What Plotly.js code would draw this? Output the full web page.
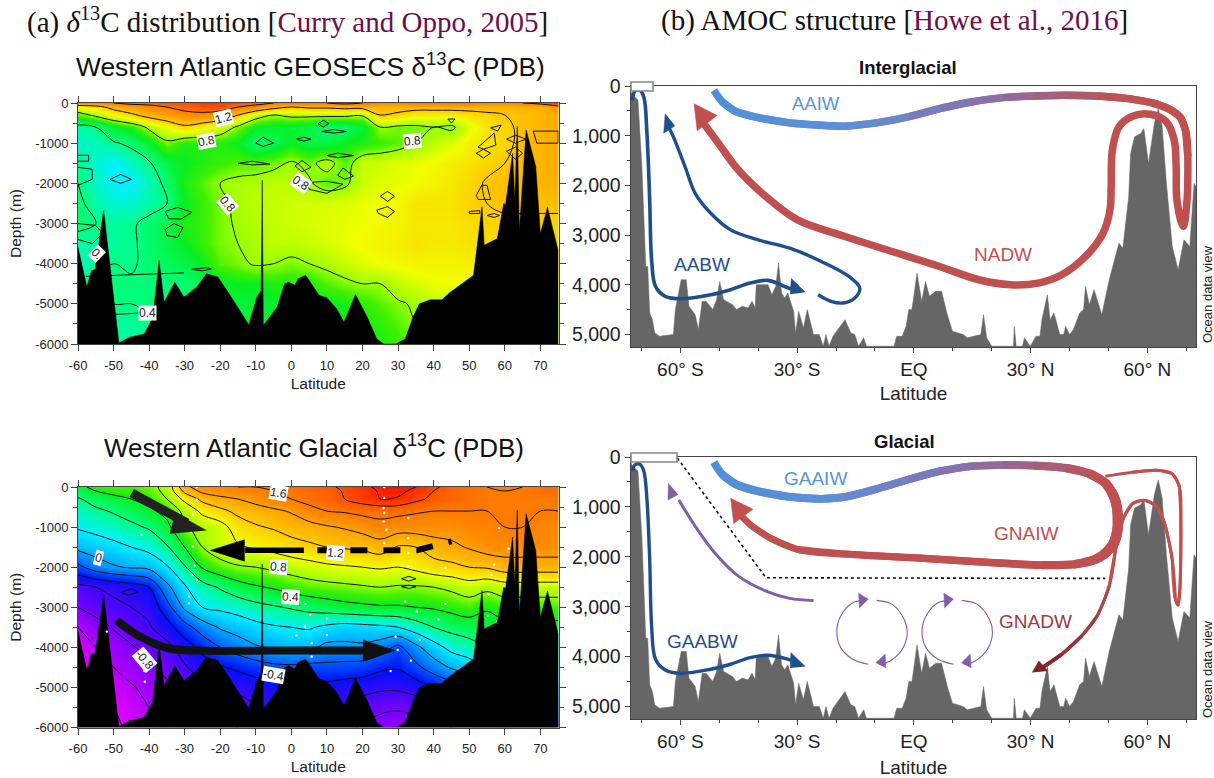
<!DOCTYPE html>
<html><head><meta charset="utf-8">
<script src="https://cdn.plot.ly/plotly-3.0.1.min.js"></script>
<style>html,body{margin:0;padding:0;background:#fff}</style></head>
<body><div id="chart" style="width:1214px;height:778px"></div>
<script>
// ---------- d13C sections ----------
const gridLat=[-60,-55,-50,-45,-40,-35,-30,-25,-20,-15,-10,-5,0,5,10,15,20,25,30,35,40,45,50,55,60,65,70,75];
const gridDepth=[0,-100,-300,-600,-1000,-1500,-2000,-2500,-3000,-3500,-4000,-4500,-5000,-5500,-6000];
const geosecsD13C=[
[1.5,1.5,1.6,1.7,1.7,1.8,1.8,1.9,1.9,1.8,1.7,1.6,1.6,1.6,1.6,1.7,1.6,1.5,1.5,1.6,1.6,1.6,1.6,1.5,1.5,1.6,1.7,1.9],
[1.0,1.1,1.3,1.4,1.5,1.6,1.7,1.8,1.8,1.6,1.5,1.3,1.2,1.25,1.25,1.3,1.3,1.3,1.3,1.3,1.3,1.3,1.3,1.3,1.3,1.3,1.3,1.5],
[.7,.85,1.0,1.15,1.3,1.4,1.5,1.5,1.4,1.2,.9,.8,.85,.85,.85,.85,.82,1.2,1.15,1.05,1.05,1.05,1.1,1.15,1.2,1.25,1.3,1.35],
[.34,.4,.56,.64,.85,1.0,1.15,1.05,.95,.76,.6,.56,.56,.52,.44,.44,.56,.8,.76,.76,.8,.76,.95,1.1,1.15,1.25,1.3,1.35],
[.27,.31,.38,.44,.56,.76,.64,.64,.64,.6,.44,.5,.6,.52,.52,.6,.64,.68,.72,.8,.88,.95,1.05,1.1,1.15,1.25,1.3,1.35],
[.38,.27,.2,.29,.38,.52,.6,.64,.68,.72,.72,.76,.82,.76,.86,.72,.9,.92,.96,.98,1.02,1.06,1.1,1.15,1.2,1.28,1.3,1.35],
[.4,.29,.2,.19,.31,.44,.64,.72,.8,.84,.86,.88,.88,.82,.72,.76,.92,.96,.98,1.0,1.04,1.08,1.14,1.22,1.25,1.28,1.3,1.32],
[.44,.33,.27,.27,.34,.4,.6,.68,.76,.84,.88,.9,.92,.94,.94,.96,.98,1.0,1.02,1.1,1.1,1.1,1.16,1.2,1.25,1.25,1.25,1.25],
[.44,.4,.36,.38,.44,.52,.64,.68,.76,.82,.86,.9,.92,.94,.96,.98,1.0,1.02,1.04,1.08,1.08,1.08,1.12,1.15,1.15,1.15,1.15,1.15],
[.34,.34,.36,.38,.44,.52,.6,.68,.76,.8,.84,.88,.88,.9,.94,.98,1.02,1.04,1.06,1.1,1.08,1.08,1.1,1.12,1.12,1.12,1.12,1.12],
[.29,.38,.4,.38,.44,.48,.52,.6,.72,.76,.82,.8,.76,.8,.84,.9,.96,1.0,1.02,1.04,1.04,1.04,1.05,1.05,1.05,1.05,1.05,1.05],
[.38,.4,.42,.42,.42,.42,.44,.48,.56,.6,.6,.64,.64,.64,.72,.76,.8,.8,.88,.94,.98,1.0,1.0,1.0,1.0,1.0,1.0,1.0],
[.4,.4,.4,.4,.42,.44,.46,.5,.52,.54,.56,.58,.6,.6,.6,.62,.66,.72,.78,.82,.9,.9,.9,.9,.9,.9,.9,.9],
[.36,.36,.36,.36,.38,.42,.46,.48,.5,.52,.54,.56,.58,.58,.58,.6,.64,.66,.72,.8,.85,.85,.85,.85,.85,.85,.85,.85],
[.34,.34,.34,.34,.36,.4,.44,.46,.48,.5,.52,.54,.56,.56,.56,.6,.6,.64,.68,.76,.8,.8,.8,.8,.8,.8,.8,.8]];
const glacialD13C=[
[.55,.65,.7,.7,.75,.85,1.35,1.5,1.55,1.6,1.6,1.62,1.65,1.7,1.75,1.85,1.95,2.05,2.1,2.0,1.85,1.7,1.65,1.6,1.55,1.6,1.65,1.65],
[.5,.6,.65,.68,.72,.85,1.25,1.45,1.5,1.55,1.58,1.6,1.62,1.67,1.72,1.82,1.92,2.02,2.05,1.95,1.8,1.7,1.65,1.6,1.6,1.62,1.65,1.65],
[.38,.48,.55,.6,.68,.8,1.05,1.25,1.35,1.4,1.48,1.55,1.6,1.65,1.7,1.8,1.9,2.0,1.98,1.85,1.75,1.7,1.65,1.6,1.6,1.6,1.6,1.6],
[.3,.36,.42,.48,.56,.66,.85,1.05,1.15,1.25,1.3,1.36,1.42,1.55,1.6,1.62,1.65,1.65,1.65,1.62,1.6,1.6,1.6,1.6,1.6,1.6,1.6,1.6],
[.22,.26,.3,.36,.42,.55,.78,.85,.92,1.1,1.18,1.22,1.28,1.32,1.38,1.42,1.48,1.55,1.5,1.5,1.5,1.5,1.55,1.55,1.6,1.6,1.55,1.5],
[.05,.1,.15,.2,.26,.38,.6,.8,.92,.98,1.02,1.06,1.12,1.16,1.2,1.22,1.24,1.3,1.18,1.2,1.3,1.35,1.42,1.5,1.5,1.5,1.5,1.5],
[-.25,-.1,-.02,.02,.05,.18,.38,.62,.72,.78,.8,.84,.88,.92,.96,.98,1.0,1.02,1.0,1.05,1.12,1.15,1.2,1.22,1.3,1.3,1.3,1.3],
[-.65,-.6,-.55,-.5,-.4,-.05,.18,.32,.42,.52,.58,.62,.68,.72,.74,.76,.78,.8,.78,.78,.8,.84,.9,.85,.9,.9,.9,.9],
[-.8,-.7,-.65,-.6,-.55,-.28,.04,.2,.24,.28,.34,.38,.42,.46,.5,.54,.56,.58,.58,.6,.62,.66,.7,.62,.7,.7,.7,.7],
[-1.0,-.9,-.78,-.7,-.62,-.48,-.28,-.1,.02,.08,.14,.18,.2,.22,.16,.12,.14,.16,.2,.3,.4,.46,.5,.52,.55,.55,.55,.55],
[-1.15,-1.0,-.92,-.82,-.74,-.66,-.5,-.34,-.2,-.1,-.02,.02,.06,.04,-.05,-.05,-.04,-.1,-.25,-.05,.12,.26,.32,.4,.45,.45,.45,.45],
[-1.2,-1.1,-1.0,-.92,-.84,-.74,-.62,-.5,-.42,-.36,-.3,-.25,-.24,-.26,-.25,-.26,-.28,-.36,-.38,-.25,-.1,.02,.1,.2,.3,.3,.3,.3],
[-1.25,-1.2,-1.12,-1.02,-.94,-.84,-.74,-.66,-.6,-.56,-.5,-.46,-.44,-.44,-.46,-.5,-.52,-.56,-.56,-.5,-.4,-.3,-.2,-.1,0,0,0,0],
[-1.3,-1.25,-1.2,-1.1,-1.0,-.92,-.84,-.78,-.72,-.68,-.62,-.58,-.56,-.56,-.58,-.62,-.7,-.76,-.78,-.74,-.7,-.6,-.5,-.3,-.2,-.2,-.2,-.2],
[-1.3,-1.3,-1.25,-1.15,-1.05,-.98,-.92,-.88,-.84,-.8,-.76,-.72,-.7,-.7,-.72,-.76,-.82,-.88,-.9,-.88,-.85,-.8,-.7,-.5,-.4,-.4,-.4,-.4]];
const seafloorLat=[-60,-57.5,-56.2,-55.2,-52.8,-48.5,-45.5,-41.4,-39,-37.2,-35.8,-32.8,-30.2,-26.6,-23.9,-20.7,-17.5,-12,-9.7,-8.5,-8.2,-7.9,-4,-1.9,-0.8,1,1.9,4,7.8,10,12.7,14.8,18,21.3,24,26,29.3,32,34.2,36,39,42.3,44.4,51.2,52.7,53.6,54.2,57.9,59.7,60.2,62.2,62.8,63.5,64.1,66,68.7,70,72,75];
const seafloorDepth=[-3600,-4580,-4170,-4150,-2670,-5975,-5830,-5750,-5350,-3920,-4960,-4460,-4830,-4580,-4250,-4330,-4750,-5520,-4830,-4670,-1920,-5540,-5080,-4500,-4460,-4540,-4375,-4290,-4790,-4850,-5120,-5460,-4770,-5330,-5875,-6000,-6000,-5875,-5330,-5000,-4900,-4900,-4730,-4290,-3170,-2580,-3540,-3375,-2500,-2540,-1250,-2420,-580,-3170,-670,-1580,-3250,-2600,-3670];
const geosecsLoopLat=[7.5,9,10.5,9,7.5,null,-10,-8,-5,-8,-10,null,8.5,12,15.5,12,8.5,null,1.5,3.5,5.5,3.5,1.5,null,10,13,17.5,13,10,null,-51,-48,-45,-48,-51,null,1,3,5.5,3,1,null,13,14.5,17.5,15,13,null,4.5,10,14.5,10,5,4.5,null,25,27,29,27,25,null,24,27,29,27,24.5,24,null,-35.5,-32,-28,-31,-34.5,-35.5,null,-35.5,-33,-30.5,-32,-35,-35.5,null,44,46,45,44,null,-60,-55,-53,-56,-60,null,-60,-57,-57,-60,null,-60,-56,-56,-60,null,52,53.5,55,56,52.5,52,null,56,59,58,56,null,52,54,56,54,52,null,52.5,57,57.5,54,52.5,null,50,53,53,50,50,null,55,57,58.5,57,55,null,60.5,63,66,63,60.5,null,60.5,63,65,63,60.5,null,68,75,75,69,68,null,-28,-24,-22.5,-25,-28,null,-15,-11,-6,-11,-15,null,-57.8,-30.2,null,-49.8,-41.7];
const geosecsLoopDepth=[-516,-430,-516,-600,-516,null,-1000,-850,-1000,-1080,-1000,null,-710,-660,-710,-750,-710,null,-900,-850,-900,-950,-900,null,-1310,-1250,-1310,-1360,-1310,null,-1900,-1780,-1900,-2000,-1900,null,-1570,-1430,-1600,-1710,-1570,null,-1800,-1620,-1820,-1900,-1800,null,-1980,-1950,-2020,-2250,-2150,-1980,null,-2320,-2200,-2320,-2450,-2320,null,-2670,-2580,-2700,-2850,-2750,-2670,null,-2700,-2600,-2720,-2890,-2880,-2700,null,-3150,-3000,-3100,-3350,-3300,-3150,null,-400,-400,-500,-400,null,-3000,-3050,-3250,-3500,-3400,null,-1300,-1300,-1450,-1450,null,-1600,-1650,-1900,-2050,null,-2300,-2050,-2050,-2400,-2400,-2300,null,-620,-550,-700,-620,null,-1250,-1150,-1250,-1370,-1250,null,-1100,-750,-1050,-1150,-1100,null,-2700,-2680,-2750,-2750,-2700,null,-2800,-2750,-2800,-2850,-2800,null,-900,-800,-900,-1000,-900,null,-1200,-1100,-1250,-1400,-1200,null,-700,-700,-1000,-1000,-700,null,-4140,-4100,-4130,-4180,-4140,null,-1500,-1450,-1520,-1540,-1500,null,-4315,-4230,null,-5265,-5225];
const glacialLoopLat=[-48,-45,-43,-46,-48,null,31,33,35,33,31,null,31,33,35,33,31];
const glacialLoopDepth=[-2630,-2540,-2620,-2700,-2630,null,-2290,-2230,-2290,-2350,-2290,null,-2490,-2450,-2490,-2530,-2490];
const stationLat=[-26.6,-26.6,-27.7,-28.2,-27.7,-27.2,-27.9,-26.6,-28.8,-28.8,26.1,26.1,25.9,26.1,25.9,26.7,26.1,32.9,32.9,32.9,32.9,32,43.3,41.4,35.3,36.1,4,5.3,10,3.8,1.4,5.7,10,5.7,33.6,27.9,-41.4,-41.2,-51.9,-42.2,58.4,61.1,57,56.3,43.3,55.5,55.2,29.3,29.9];
const stationDepth=[0,-317,-691,-1108,-1483,-1958,-2191,-2316,-2732,-2899,0,-275,-525,-650,-858,-1066,-1400,-775,-1275,-1649,-1983,-2857,-2916,-3299,-3107,-3815,-2916,-3190,-3274,-3482,-3707,-3899,-3690,-4232,-4332,-4590,-4590,-4857,-3607,-1191,-1025,-1541,-1941,-2191,-2024,-2674,-3215,-3732,-4065];
const ventLat=[-44.9,-33.6,-29.3], ventDepth=[-150,-720,-900];
const ventHeadLat=[-23.9,-32.6,-34.2], ventHeadDepth=[-1083,-650,-1166];
const nadwSolidLat=[3.5,-13], nadwSolidDepth=[-1575,-1575];
const nadwDashLat=[7.3,35.3,45], nadwDashDepth=[-1575,-1575,-1358];
const nadwHeadLat=[-22.9,-13.2,-13.2], nadwHeadDepth=[-1583,-1316,-1858];
const deepFlowLat=[-49.2,-42.2,-34.7,-26,-6.7,21.3], deepFlowDepth=[-3330,-3750,-4023,-4082,-4082,-4082];
const deepHeadLat=[29.3,20.2,20.2], deepHeadDepth=[-4082,-3815,-4357];

// ---------- AMOC sections ----------
const ridgeLat=[-72.7,-72.5,-70.9,-69.9,-68.9,-68.4,-67.9,-67.2,-66.6,-65.4,-62.3,-61.8,-61.3,-59.8,-58.5,-57.8,-56.2,-55.4,-54.4,-53.4,-51.7,-50.7,-49.9,-48.9,-46.6,-45.6,-44.1,-42.6,-41.6,-40.8,-40.5,-37.5,-36.5,-35.5,-34.8,-34,-33.2,-32.4,-30.9,-30.4,-29.6,-28.4,-27.4,-25.8,-24.3,-23.3,-22.6,-21.8,-20.8,-19.3,-17.7,-16.2,-15.2,-14.2,-12.9,-12.2,-5.1,-4.4,-3,-2,-1.3,-0.5,0.8,2,3,4,5.6,7.1,8.6,9.9,12.7,13.7,17.2,17.9,18.7,20,21.3,25.6,25.8,26.3,27.9,28.4,29.9,31.4,32.4,32.9,34.3,35,36,37.5,38.5,39,40,41,42.6,43.6,44.1,45.1,46.3,48.3,50.2,52.7,53.7,55.2,55.7,56.7,58.3,59.1,60.3,61.8,62.8,63.8,64.9,66.4,67.9,69.4,70.9,72,72.5];
const ridgeDepth=[120,154,287,1624,3630,3630,4565,4700,4966,5033,5000,5000,4498,3897,3897,4431,4599,4900,4331,4331,4498,4298,3930,4298,4398,4498,4431,4465,4331,4465,3997,3997,4198,4030,3563,4164,4264,4164,4532,4966,4532,4866,4498,5000,5000,5233,5000,5233,5033,4866,4700,4966,5000,5233,5066,5233,5233,5033,5033,4833,4498,4498,3763,4331,3930,4231,4131,4131,4599,4933,5000,5066,5000,4599,5066,5233,5233,5233,4833,5233,5233,5066,5233,5033,5033,4700,4198,4700,4565,5000,5000,4833,5000,4900,4565,4498,4030,4398,4098,4599,3897,3161,3262,2226,1357,1023,956,855,1557,755,455,822,1958,3228,3696,3095,3228,1958,2025];
const aaiwLat=[-51.4,-49.2,-45.6,-40,-31.9,-23.8,-17.7,-9.6,-1.5,6.6,14.7,22.8,30.9,39,47.1,55.2,61.3,65.4,68.4,69.9,70.4];
const aaiwDepth=[87,321,521,635,742,789,809,742,622,455,321,234,201,187,201,254,341,455,622,922,1424];
const nadwFoldLat=[70.4,70.2,69.2,67.6,67.4,66.9,64.9,60.8,56.2,52.7,51,50.7,50.4,48.6,44.1,38,31.9,24.8,16.7,6.6,-5.6,-17.7,-29.9,-38,-45.1,-50.2,-54];
const nadwFoldDepth=[1424,2293,2827,2293,1624,1089,722,568,608,822,1290,2025,2493,2961,3429,3796,3964,3997,3897,3630,3329,3028,2694,2226,1691,1156,755];
const nadwTipLat=[-56.5,-55.7,-50.5], nadwTipDepth=[354,902,588];
const aabwUpLat=[-24.6,-21.3,-18.2,-15.2,-13.9,-16.7,-23.8,-31.9,-40,-47.1,-52.2,-56.2,-58.8,-61.8,-63.2];
const aabwUpDepth=[4198,4331,4365,4264,4064,3830,3529,3262,3095,2894,2560,2159,1624,1023,800];
const aabwUpTipLat=[-63.9,-64.3,-61.4], aabwUpTipDepth=[555,950,800];
const aabwLat=[-72.3,-71.7,-70.4,-69.4,-68.6,-67.9,-67.4,-66.4,-63.9,-59.8,-52.2,-47.1,-42.1,-37.5,-32.9,-30];
const aabwDepth=[287,100,87,220,956,2293,3496,4030,4230,4278,4198,4097,3964,3910,4044,4130];
const aabwTipLat=[-27.9,-31.5,-31.8], aabwTipDepth=[4150,3870,4190];

const gaaiwLat=[-51.4,-49.2,-45.6,-40,-31.9,-23.8,-17.7,-9.6,-1.5,6.6,14.7,22.8,30.9,39,45.1,49.2,50.8,51.7,52.2,52.4,52.4,52,51.3,50.2,48.6,46.6,44,41,32.9,20.8,0.5,-15.7,-29.9,-37,-42.1,-45.1];
const gaaiwDepth=[107,353,553,687,800,840,800,640,453,287,187,160,173,220,333,520,700,853,1020,1187,1400,1587,1740,1853,1965,2053,2110,2153,2167,2120,2020,1953,1853,1620,1353,1120];
const gnaiwTipLat=[-47.1,-46.3,-41.3], gnaiwTipDepth=[820,1333,1040];
const gnadwLat=[49.2,56.2,62.3,66.4,68.2,68.6,68.6,68.4,67.9,67.2,66.4,64.4,62.3,59.3,56.2,53.7,51.7,50.2,47.1,43.1,38,33];
const gnadwDepth=[387,307,267,333,587,1187,1853,2587,2973,2853,2053,1320,987,867,933,1253,1920,2587,3187,3587,3953,4220];
const gnadwTipLat=[30.4,32.1,34.5], gnadwTipDepth=[4320,4087,4287];
const gaaiwPurpleLat=[-25.8,-31.9,-38,-45.1,-51.2,-56.2,-60.4], gaaiwPurpleDepth=[2873,2833,2687,2387,1920,1387,860];
const purpleTipLat=[-63.1,-63.2,-60.6], purpleTipDepth=[520,860,753];
const gaabwLat=[-72.3,-71.7,-70.4,-69.4,-68.6,-67.9,-67.4,-66.4,-63.9,-59.8,-52.2,-47.1,-42.1,-37.5,-32.9,-30];
const gaabwDepth=[287,160,147,287,853,2053,3387,4053,4267,4333,4253,4153,4020,3973,4040,4120];
const gaabwTipLat=[-27.9,-31.6,-31.8], gaabwTipDepth=[4200,3920,4230];
const dotLat=[-60.8,-38,49.2], dotDepth=[20,2420,2433];
const cellLatsA=[[-12.5,-15.7,-18.8,-19.8,-18.8,-15.7,-11.7],[-9.6,-5.6,-2.5,-1.7,-3,-6.1,-8.9]];
const cellDepthsA=[[2873,2920,3187,3487,3820,4053,4153],[2873,2953,3253,3520,3853,4087,4153]];
const cellLatsB=[[9.4,6.2,3.1,2.1,3.1,6.2,10.2],[12.3,16.3,19.4,20.2,18.9,15.8,13]];
const cellDepthsB=[[2873,2920,3187,3487,3820,4053,4153],[2873,2953,3253,3520,3853,4087,4153]];
const cellTipLat=[[-11.7,-14.2,-14],[-9.8,-7.4,-7.2],[10.2,7.7,7.9],[12.2,14.5,14.7]];
const cellTipDepth=[[2850,2730,3030],[4127,3950,4230],[2850,2730,3030],[4127,3950,4230]];

const latTicksA=[-60,-50,-40,-30,-20,-10,0,10,20,30,40,50,60,70];
const latLabelsA=['-60','-50','-40','-30','-20','-10','0','10','20','30','40','50','60','70'];
const depthTicksA=[0,-1000,-2000,-3000,-4000,-5000,-6000];
const depthLabelsA=['0','-1000','-2000','-3000','-4000','-5000','-6000'];
const depthMinorA=[-500,-1500,-2500,-3500,-4500,-5500];
const latTicksB=[-60,-30,0,30,60];
const latLabelsB=['60° S','30° S','EQ','30° N','60° N'];
const latMinorB=[-70,-50,-40,-20,-10,10,20,40,50,70];
const depthTicksB=[0,1000,2000,3000,4000,5000];
const depthMinorB=[500,1500,2500,3500,4500];

// ---------- styling ----------
const W=1214,H=778;
const px=p=>p/W, py=p=>1-p/H;
const rainbow=[[-1.3,'#ff00ff'],[-.8,'#7a00ff'],[-.4,'#0010ff'],[0,'#00a8ff'],[.2,'#00f0ff'],[.4,'#00ff80'],[.6,'#08ee20'],[.7,'#40f000'],[.8,'#98ff00'],[1.0,'#f0ff00'],[1.2,'#ffc800'],[1.6,'#ff7a00'],[2.1,'#ff1000']];
const zMin=-1.3,zMax=2.1;
const colorscale=rainbow.map(([v,c])=>[(v-zMin)/(zMax-zMin),c]);
const BLUE='#1f4e8c',RED='#c0504f',SKY='#4f8fd8',MAUVE='#8a6fa8',VIO='#7e5fa8',GREY='#666666';
const traces=[];
const ax=(i)=>i===1?{xaxis:'x',yaxis:'y'}:{xaxis:'x'+i,yaxis:'y'+i};
const hex=c=>[1,3,5].map(i=>parseInt(c.substr(i,2),16));
function mix(stops,f){for(let i=1;i<stops.length;i++){if(f<=stops[i][0]){const[a,ca]=stops[i-1],[b,cb]=stops[i];const t=(f-a)/(b-a||1);const A=hex(ca),B=hex(cb);return'rgb('+A.map((v,k)=>Math.round(v+(B[k]-v)*t)).join(',')+')';}}return stops[stops.length-1][1];}
function lerp(stops,f){for(let i=1;i<stops.length;i++){if(f<=stops[i][0]){const[a,va]=stops[i-1],[b,vb]=stops[i];return va+(vb-va)*(f-a)/(b-a||1);}}return stops[stops.length-1][1];}
function line(x,y,i,color,width,extra){traces.push(Object.assign({type:'scatter',mode:'lines',x,y,line:Object.assign({color,width,shape:'spline',smoothing:1},extra||{}),hoverinfo:'skip'},ax(i)));}
function poly(x,y,i,color){traces.push(Object.assign({type:'scatter',mode:'lines',x,y,fill:'toself',fillcolor:color,line:{color,width:.5},hoverinfo:'skip'},ax(i)));}
function ribbon(x,y,i,colors,widths){const n=x.length-1;for(let k=0;k<n;k++){const e=Math.min(k+3,x.length);const f=k/n;line(x.slice(k,e),y.slice(k,e),i,mix(colors,f),lerp(widths,f));}}
function section(i,z,loopLat,loopDepth,level0,levelStep){
  traces.push(Object.assign({type:'heatmap',x:gridLat,y:gridDepth,z,zmin:zMin,zmax:zMax,colorscale,showscale:false,zsmooth:'best',hoverinfo:'skip'},ax(i)));
  traces.push(Object.assign({type:'contour',x:gridLat,y:gridDepth,z,showscale:false,contours:{start:level0,end:2.2,size:levelStep,coloring:'none'},line:{color:'#111',width:1,smoothing:1},hoverinfo:'skip'},ax(i)));
  line(loopLat,loopDepth,i,'#111',1,{shape:'linear'});
  poly([seafloorLat[0],...seafloorLat,seafloorLat[seafloorLat.length-1]],[-6000,...seafloorDepth,-6000],i,'#000');
}
section(1,geosecsD13C,geosecsLoopLat,geosecsLoopDepth,.4,.4);
section(2,glacialD13C,glacialLoopLat,glacialLoopDepth,-1.2,.2);
traces.push(Object.assign({type:'scatter',mode:'markers',x:stationLat,y:stationDepth,marker:{color:'#fff',size:2.4},hoverinfo:'skip'},ax(2)));
line(ventLat,ventDepth,2,'#222',9,{shape:'linear'}); poly(ventHeadLat,ventHeadDepth,2,'#222');
line(nadwSolidLat,nadwSolidDepth,2,'#000',5.5,{shape:'linear'}); poly(nadwHeadLat,nadwHeadDepth,2,'#000');
line(nadwDashLat,nadwDashDepth,2,'#000',6,{shape:'linear',dash:'17px,16px'});
line(deepFlowLat,deepFlowDepth,2,'#111',8); poly(deepHeadLat,deepHeadDepth,2,'#111');

function ridge(i){traces.push(Object.assign({type:'scatter',mode:'lines',x:[ridgeLat[0],...ridgeLat,ridgeLat[ridgeLat.length-1]],y:[5250,...ridgeDepth,5250],fill:'toself',fillcolor:GREY,line:{color:GREY,width:.5},hoverinfo:'skip'},ax(i)));}
ridge(3);ridge(4);
// interglacial
line(aabwLat,aabwDepth,3,BLUE,3.6); poly(aabwTipLat,aabwTipDepth,3,BLUE);
line(aabwUpLat,aabwUpDepth,3,BLUE,3.4); poly(aabwUpTipLat,aabwUpTipDepth,3,BLUE);
ribbon(aaiwLat,aaiwDepth,3,[[0,SKY],[.28,'#5f8ed6'],[.5,MAUVE],[.72,RED],[1,RED]],[[0,7.5],[1,7.5]]);
line(nadwFoldLat,nadwFoldDepth,3,RED,7.5); poly(nadwTipLat,nadwTipDepth,3,RED);
// glacial
line(gaabwLat,gaabwDepth,4,BLUE,3.4); poly(gaabwTipLat,gaabwTipDepth,4,BLUE);
line(gaaiwPurpleLat,gaaiwPurpleDepth,4,VIO,3); poly(purpleTipLat,purpleTipDepth,4,VIO);
ribbon(gaaiwLat,gaaiwDepth,4,[[0,SKY],[.15,'#5f8ed6'],[.27,MAUVE],[.4,RED],[1,RED]],[[0,8],[.3,7.5],[.45,10],[.6,10.5],[.78,7.5],[1,6]]);
poly(gnaiwTipLat,gnaiwTipDepth,4,RED);
ribbon(gnadwLat,gnadwDepth,4,[[0,RED],[.75,RED],[1,'#7a2428']],[[0,3],[.8,3],[1,4]]);
poly(gnadwTipLat,gnadwTipDepth,4,'#7a2428');
line(dotLat,dotDepth,4,'#111',1.6,{shape:'linear',dash:'dot'});
[...cellLatsA,...cellLatsB].forEach((x,k)=>line(x,[...cellDepthsA,...cellDepthsB][k],4,VIO,1.1));
cellTipLat.forEach((x,k)=>poly(x,cellTipDepth[k],4,VIO));

// ---------- axes ----------
const SANS='"Liberation Sans",Arial,sans-serif';
function axisA(dom,anchor,isX,title){
  const base={anchor,domain:dom,showgrid:false,zeroline:false,showline:true,mirror:'ticks',linecolor:'#444',linewidth:1,ticks:'outside',tickcolor:'#444',ticklen:6,tickwidth:1,tickfont:{family:SANS,size:13,color:'#222'},title:{text:title,font:{family:SANS,size:isX?15.5:15.5,color:'#222'},standoff:isX?6:9}};
  return isX?Object.assign(base,{range:[-60,75.1],tickmode:'array',tickvals:latTicksA,ticktext:latLabelsA,ticklabelstandoff:3}):Object.assign(base,{range:[-6000,0],tickmode:'array',tickvals:depthTicksA,ticktext:depthLabelsA,minor:{tickmode:'array',tickvals:depthMinorA,ticks:'outside',ticklen:4,tickcolor:'#444',tickwidth:1}});
}
function axisB(dom,anchor,isX,off){
  const base={anchor,domain:dom,showgrid:false,zeroline:false,showline:true,mirror:true,linecolor:'#444',linewidth:1.4,ticks:'outside',tickcolor:'#444',ticklen:5,tickfont:{family:SANS,size:isX?19:19.5,color:'#222'}};
  return isX?Object.assign(base,{range:[-72.7,72.5],tickmode:'array',tickvals:latTicksB,ticktext:latLabelsB,minor:{tickmode:'array',tickvals:latMinorB,ticks:'outside',ticklen:3,tickcolor:'#444'},title:{text:'Latitude',font:{family:SANS,size:19,color:'#222'},standoff:off}}):Object.assign(base,{range:[5250,0],tickmode:'array',tickvals:depthTicksB,tickformat:',',minor:{tickmode:'array',tickvals:depthMinorB,ticks:'outside',ticklen:3,tickcolor:'#444'}});
}
const xA=[px(78),px(558.5)],xB=[px(631),px(1196)];
const layout={width:W,height:H,margin:{l:0,r:0,t:0,b:0,pad:0},paper_bgcolor:'#fff',plot_bgcolor:'#fff',showlegend:false,hovermode:false,
 xaxis:axisA(xA,'y',true,'Latitude'),yaxis:axisA([py(344),py(103)],'x',false,'Depth (m)'),
 xaxis2:axisA(xA,'y2',true,'Latitude'),yaxis2:axisA([py(727.5),py(487)],'x2',false,'Depth (m)'),
 xaxis3:axisB(xB,'y3',true,7),yaxis3:axisB([py(347),py(86)],'x3',false),
 xaxis4:axisB(xB,'y4',true,9),yaxis4:axisB([py(719),py(457)],'x4',false),
 shapes:[
  {type:'rect',xref:'paper',yref:'paper',x0:px(631),x1:px(653),y0:py(91),y1:py(82),line:{color:'#888',width:1.6},fillcolor:'#fff'},
  {type:'rect',xref:'paper',yref:'paper',x0:px(631),x1:px(677),y0:py(462),y1:py(453),line:{color:'#888',width:1.6},fillcolor:'#fff'}],
 annotations:[]};
const note=(text,x,y,size,color,opt)=>layout.annotations.push(Object.assign({xref:'paper',yref:'paper',x:px(x),y:py(y),text,showarrow:false,xanchor:'center',yanchor:'middle',font:{family:SANS,size,color}},opt||{}));
const SERIF='"Liberation Serif","Times New Roman",serif',CITE='#6b0f4f';
note('(a) <i>δ</i><sup>13</sup>C distribution [<span style="color:'+CITE+'">Curry and Oppo, 2005</span>]',287,20,29,'#111',{font:{family:SERIF,size:29,color:'#111'}});
note('(b) AMOC structure [<span style="color:'+CITE+'">Howe et al., 2016</span>]',894,20,29,'#111',{font:{family:SERIF,size:29,color:'#111'}});
note('Western Atlantic GEOSECS δ<sup>13</sup>C (PDB)',310,65,26.4,'#111');
note('Western Atlantic Glacial  δ<sup>13</sup>C (PDB)',314,446,26,'#111');
note('<b>Interglacial</b>',908,68,18.5,'#111');
note('<b>Glacial</b>',904,442,18.5,'#111');
note('AAIW',816,103,18.5,'#5b93d6');note('NADW',1003,255,19,RED);note('AABW',702,264,19,BLUE);
note('GAAIW',815,478,19,'#5b93d6');note('GNAIW',1026,533,19,RED);note('GNADW',1035,621,19,'#a03a3e');note('GAABW',702,641,19,BLUE);
note('Ocean data view',1207,295,13,'#222',{textangle:-90});
note('Ocean data view',1207,670,13,'#222',{textangle:-90});
const tag=(text,lat,depth,i,angle)=>layout.annotations.push({xref:i===1?'x':'x'+i,yref:i===1?'y':'y'+i,x:lat,y:depth,text,textangle:angle,showarrow:false,bgcolor:'#fff',borderpad:0,font:{family:SANS,size:12,color:'#222'}});
tag('1.2',-19.1,-375,1,-15);tag('0.8',-23.9,-958,1,-10);tag('0.8',34,-958,1,-5);tag('0.8',2.6,-2000,1,35);tag('0.8',-18,-2516,1,50);tag('0.4',-40.6,-5223,1,0);tag('0.',-54.6,-3750,1,45);
tag('1.6',-3.5,-150,2,10);tag('1.2',12.4,-1640,2,5);tag('0.8',-3.5,-2000,2,5);tag('0.4',-0.3,-2732,2,3);tag('0',-54.1,-1774,2,15);tag('-0.8',-41.2,-4315,2,50);tag('-0.4',-5.1,-4690,2,10);
Plotly.newPlot('chart',traces,layout,{displayModeBar:false,staticPlot:true});
</script></body></html>
